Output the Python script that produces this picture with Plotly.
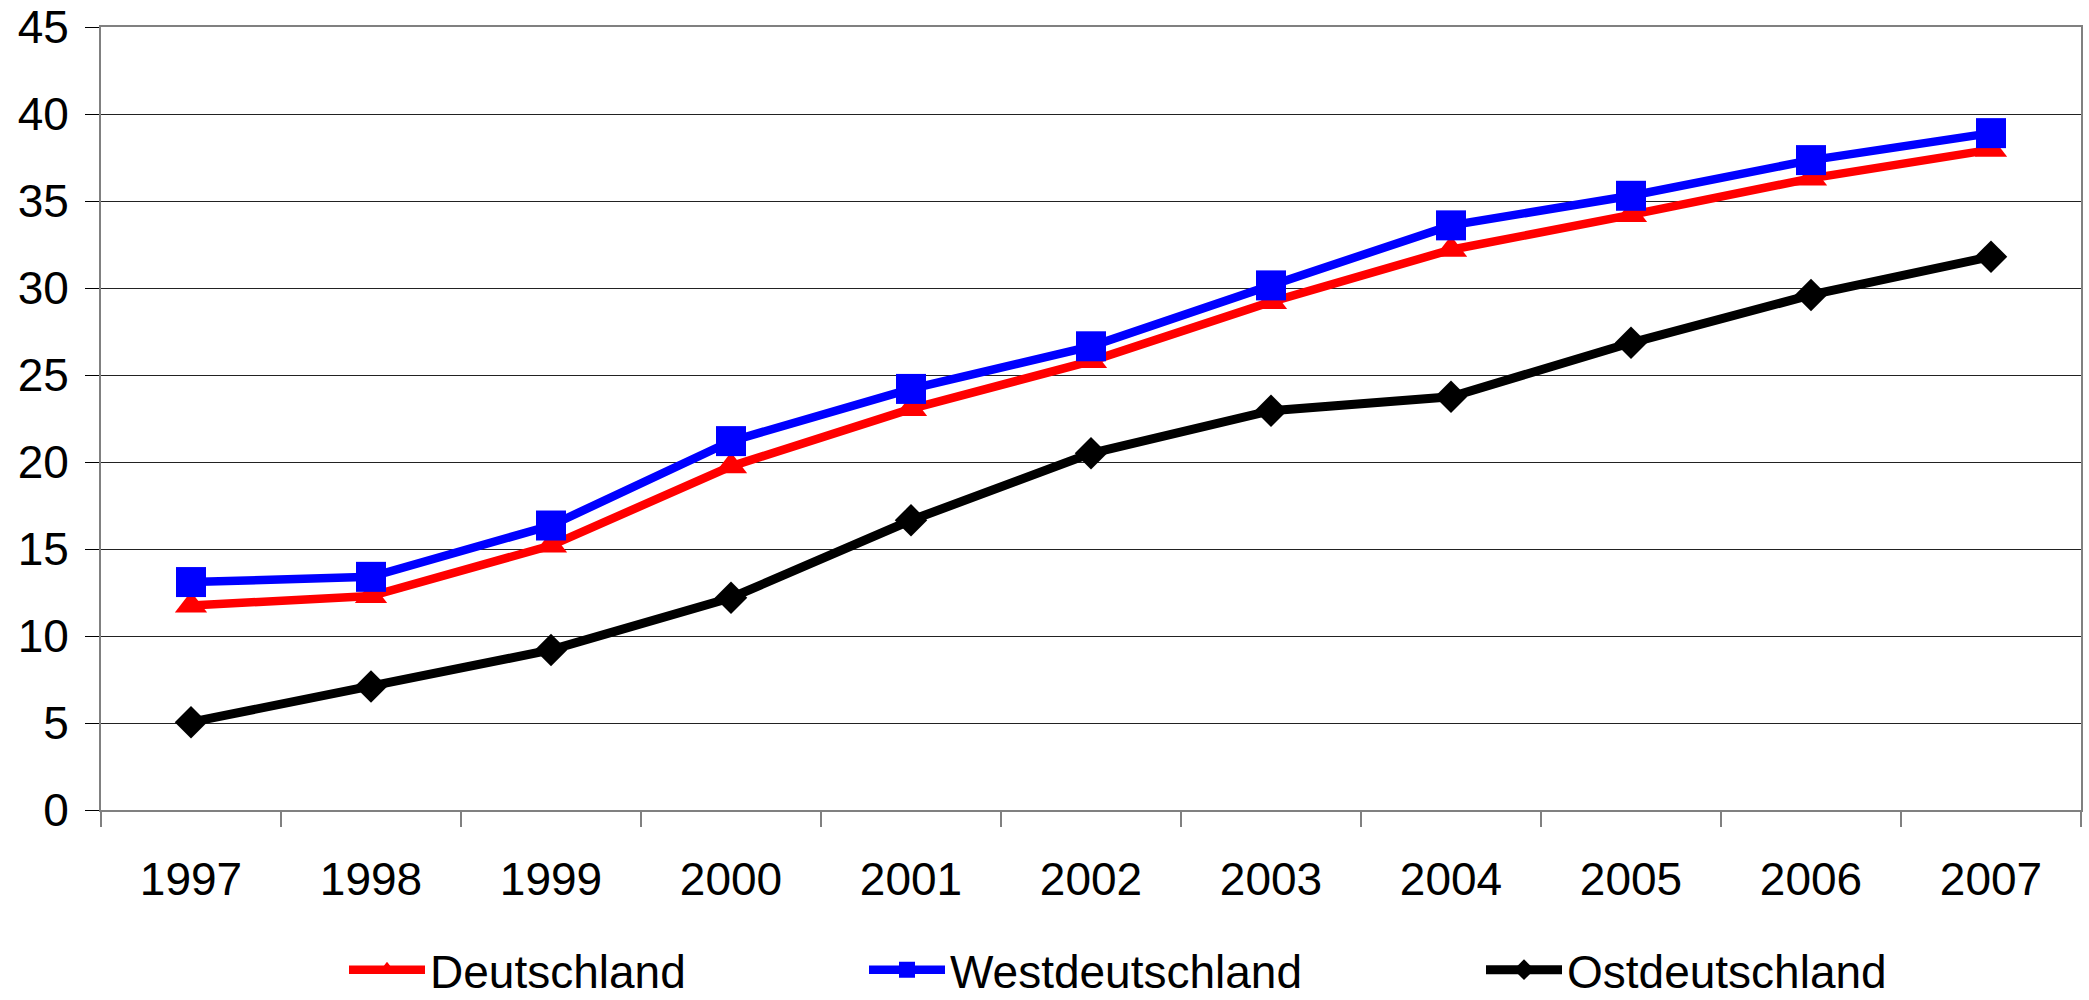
import plotly.graph_objects as go

years = ["1997", "1998", "1999", "2000", "2001", "2002", "2003", "2004", "2005", "2006", "2007"]
deutschland = [11.75, 12.3, 15.2, 19.75, 23.05, 25.8, 29.2, 32.2, 34.2, 36.3, 37.95]
westdeutschland = [13.1, 13.4, 16.35, 21.2, 24.2, 26.65, 30.15, 33.6, 35.3, 37.35, 38.9]
ostdeutschland = [5.05, 7.1, 9.2, 12.2, 16.65, 20.5, 22.95, 23.75, 26.85, 29.6, 31.8]
y_ticks = [0, 5, 10, 15, 20, 25, 30, 35, 40, 45]

FONT = "Liberation Sans, Arial, sans-serif"

fig = go.Figure()
fig.add_trace(go.Scatter(
    x=years, y=deutschland, name="Deutschland", mode="lines+markers",
    line=dict(color="#ff0000", width=8.5),
    marker=dict(symbol="triangle-up", size=28, color="#ff0000"),
    legend="legend", showlegend=True,
))
fig.add_trace(go.Scatter(
    x=years, y=westdeutschland, name="Westdeutschland", mode="lines+markers",
    line=dict(color="#0000ff", width=8.5),
    marker=dict(symbol="square", size=30, color="#0000ff"),
    legend="legend2", showlegend=True,
))
fig.add_trace(go.Scatter(
    x=years, y=ostdeutschland, name="Ostdeutschland", mode="lines+markers",
    line=dict(color="#000000", width=9),
    marker=dict(symbol="diamond", size=25, color="#000000"),
    legend="legend3", showlegend=True,
))

W, H = 2089, 1000
L, R, T, B = 101, 8, 27, 190
pw = W - L - R

def lx(px):
    return (px - L) / pw

leg_common = dict(
    orientation="h", yanchor="middle", xanchor="left", y=-0.204,
    font=dict(family=FONT, size=46, color="#000000"),
    itemwidth=76, bgcolor="rgba(0,0,0,0)", borderwidth=0,
)

fig.update_layout(
    width=W, height=H,
    margin=dict(l=L, r=R, t=T, b=B, autoexpand=False),
    paper_bgcolor="white", plot_bgcolor="white",
    font=dict(family=FONT, size=46, color="#000000"),
    showlegend=True,
    legend=dict(x=lx(344), **leg_common),
    legend2=dict(x=lx(864), **leg_common),
    legend3=dict(x=lx(1481), **leg_common),
    xaxis=dict(
        type="category", range=[-0.5, 10.5], automargin=False,
        showline=True, linecolor="#808080", linewidth=2, mirror=True,
        ticks="outside", tickson="boundaries", ticklen=15, tickcolor="#808080", tickwidth=1.5,
        showgrid=False, zeroline=False,
        tickfont=dict(family=FONT, size=46, color="#000000"),
        ticklabelstandoff=28,
    ),
    yaxis=dict(
        range=[0, 45], tickvals=y_ticks, automargin=False,
        showline=True, linecolor="#808080", linewidth=2, mirror=True,
        ticks="outside", ticklen=14, tickcolor="#000000", tickwidth=1.2,
        showgrid=True, gridcolor="#222222", gridwidth=1.2,
        zeroline=False,
        tickfont=dict(family=FONT, size=46, color="#000000"),
        ticklabelstandoff=7,
    ),
)

fig.write_html(
    "out.html",
    config={"displayModeBar": False},
    post_script="document.body.style.margin='0';document.body.style.overflow='hidden';",
)
